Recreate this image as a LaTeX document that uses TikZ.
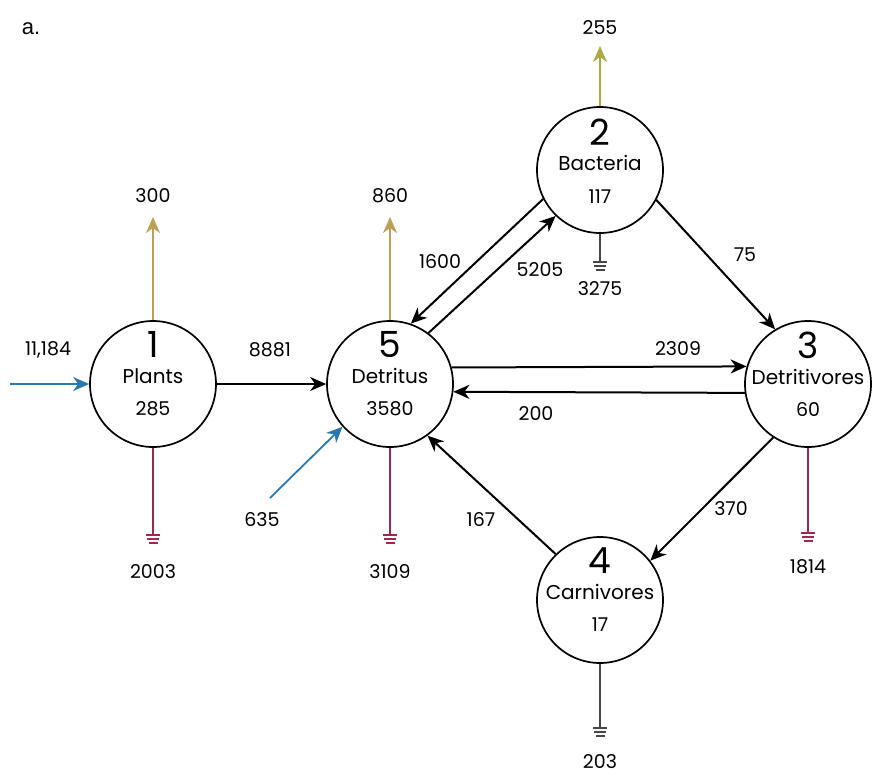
\documentclass[tikz,border=0pt]{standalone}
\usepackage{fontspec}
\setmainfont{Poppins}
\newfontfamily\panelfont{Liberation Sans}
\usetikzlibrary{arrows.meta,calc}
\definecolor{respcol}{RGB}{190,160,85}
\definecolor{respcolb}{RGB}{175,170,70}
\definecolor{importcol}{RGB}{40,120,180}
\definecolor{sinkred}{RGB}{160,40,80}
\definecolor{sinkgrey}{RGB}{70,70,70}
\tikzset{
  earth/.pic={
    \draw[line width=1.2pt] (-7,0) -- (7,0) (-6,4) -- (6,4) (-4.5,8) -- (4.5,8);
  }
}
\begin{document}
\begin{tikzpicture}[x=1pt,y=-1pt,
  stock/.style={circle,draw,line width=1.7pt,minimum size=126pt,inner sep=0pt},
  numtxt/.style={font=\fontsize{36}{36}\selectfont,anchor=base,inner sep=0pt},
  nametxt/.style={font=\fontsize{20}{20}\selectfont,anchor=base,inner sep=0pt},
  valtxt/.style={font=\fontsize{19}{19}\selectfont,anchor=base,inner sep=0pt},
  lbl/.style={font=\fontsize{19}{19}\selectfont,inner sep=0pt},
  tip/.style={-{Stealth[length=16pt,width=14pt,inset=5pt]}},
  flow/.style={tip,line width=2pt,black},
  resp/.style={tip,line width=1.8pt,respcol},
  import/.style={tip,line width=1.8pt,importcol},
  sink/.style={line width=1.5pt},
]
\useasboundingbox (0,0) rectangle (872,774);

% panel letter
\node[font=\panelfont\fontsize{22}{22}\selectfont,inner sep=0pt] (panel) at (31,29) {a.};

% compartments
\node[stock] (n1) at (153,384) {};
\node[stock] (n5) at (390,384) {};
\node[stock] (n2) at (600,170) {};
\node[stock] (n3) at (808,384) {};
\node[stock] (n4) at (600,600) {};

\node[numtxt]  (k1) at ($(n1.center)+(0,-27)$) {1};
\node[nametxt] (m1) at ($(n1.center)+(0,-1)$) {Plants};
\node[valtxt]  (v1) at ($(n1.center)+(0,31)$) {285};

\node[numtxt]  (k5) at ($(n5.center)+(0,-27)$) {5};
\node[nametxt] (m5) at ($(n5.center)+(0,-1)$) {Detritus};
\node[valtxt]  (v5) at ($(n5.center)+(0,31)$) {3580};

\node[numtxt]  (k2) at ($(n2.center)+(0,-25)$) {2};
\node[nametxt] (m2) at ($(n2.center)+(0,0)$) {Bacteria};
\node[valtxt]  (v2) at ($(n2.center)+(0,33)$) {117};

\node[numtxt]  (k3) at ($(n3.center)+(0,-26)$) {3};
\node[nametxt] (m3) at ($(n3.center)+(0,0)$) {Detritivores};
\node[valtxt]  (v3) at ($(n3.center)+(0,32)$) {60};

\node[numtxt]  (k4) at ($(n4.center)+(0,-27)$) {4};
\node[nametxt] (m4) at ($(n4.center)+(0,-1)$) {Carnivores};
\node[valtxt]  (v4) at ($(n4.center)+(0,31)$) {17};

% respiration outflows
\coordinate (r1) at (153,217);
\coordinate (r5) at (390,217);
\coordinate (r2) at (600,46);
\draw[resp] (n1.north) -- (r1);
\draw[resp] (n5.north) -- (r5);
\draw[tip,line width=1.8pt,respcolb] (n2.north) -- (r2);
\node[lbl] (l300) at (153,196) {300};
\node[lbl] (l860) at (390,196) {860};
\node[lbl] (l255) at (600,28) {255};

% sinks
\draw[sink,sinkred] (n1.south) -- (153,535) coordinate (g1);
\pic[sinkred] at (g1) {earth};
\node[lbl] (l2003) at (153,572) {2003};

\draw[sink,sinkred] (n5.south) -- (390,535) coordinate (g5);
\pic[sinkred] at (g5) {earth};
\node[lbl] (l3109) at (390,572) {3109};

\draw[sink,sinkgrey] (n2.south) -- (600,262) coordinate (g2);
\pic[sinkgrey] at (g2) {earth};
\node[lbl] (l3275) at (600,289) {3275};

\draw[sink,sinkred] (n3.south) -- (808,533) coordinate (g3);
\pic[sinkred] at (g3) {earth};
\node[lbl] (l1814) at (808,567) {1814};

\draw[sink,sinkgrey] (n4.south) -- (600,728) coordinate (g4);
\pic[sinkgrey] at (g4) {earth};
\node[lbl] (l203) at (600,762) {203};

% imports
\coordinate (i1) at (10,384);
\coordinate (i5) at (270,498);
\draw[import] (i1) -- (n1.west);
\draw[import] (i5) -- (n5.222);
\node[lbl] (l11184) at (48,350) {11,184};
\node[lbl] (l635) at (262,520) {635};

% internal flows
\draw[flow] (n1.east) -- (n5.west);
\node[lbl] (l8881) at (270,350) {8881};

\draw[flow] (n2.207) -- (n5.71);
\node[lbl] (l1600) at (440,262) {1600};
\draw[flow] (n5.53) -- (n2.226);
\node[lbl] (l5205) at (540,270) {5205};

\draw[flow] (n2.-28) -- (n3.121);
\node[lbl] (l75) at (745,255) {75};

\draw[flow] (n5.15.65) -- (n3.164.35);
\node[lbl] (l2309) at (678,349) {2309};
\draw[flow] (n3.-172.7) -- (n5.-7.3);
\node[lbl] (l200) at (536,413) {200};

\draw[flow] (n3.237) -- (n4.38);
\node[lbl] (l370) at (731,509) {370};

\draw[flow] (n4.134) -- (n5.-54);
\node[lbl] (l167) at (481,519) {167};
\end{tikzpicture}
\end{document}
